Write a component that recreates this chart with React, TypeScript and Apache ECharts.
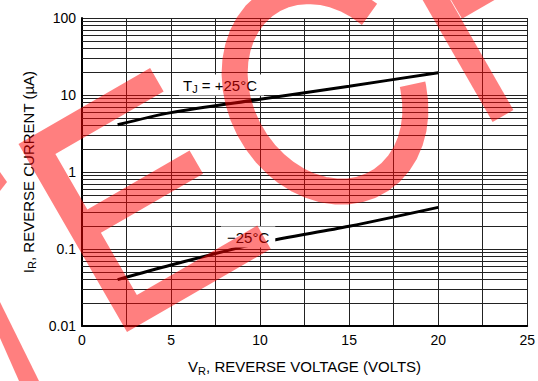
import React, { useEffect, useRef } from "react";
import * as echarts from "echarts";

// ---- data ----
const voltage = [2, 5, 10, 15, 20];
const currentPlus25 = [4.1, 5.9, 8.8, 13, 19.5];
const currentMinus25 = [0.04, 0.062, 0.12, 0.197, 0.347];
const xTickLabels = [0, 5, 10, 15, 20, 25];
const yDecades = [0.01, 0.1, 1, 10, 100];
const minorMultipliers = [2, 3, 4, 5, 6, 7, 8, 9];

const FONT = "'Liberation Sans', Arial, Helvetica, sans-serif";
const WM = "rgba(255,0,0,0.5)";

// watermark letters, defined in a frame tilted ~30 degrees (u right, v up)
const UX = 0.866, UY = -0.5, VX = -0.5, VY = -0.866;
const eLocal: [number, number][] = [
  [0, 0], [166, 0], [166, 27], [27, 27], [27, 99], [145, 99], [145, 126],
  [27, 126], [27, 190], [152, 190], [152, 217], [0, 217],
];
function frame(ox: number, oy: number, p: [number, number]): [number, number] {
  return [ox + p[0] * UX + p[1] * VX, oy + p[0] * UY + p[1] * VY];
}
function cPoints(): [number, number][] {
  const pts: [number, number][] = [];
  for (let deg = 25; deg <= 339; deg += 8) {
    const t = (deg * Math.PI) / 180;
    pts.push(frame(330, 100, [85 * Math.cos(t), 10 + 105 * Math.sin(t)]));
  }
  const t = (339 * Math.PI) / 180;
  pts.push(frame(330, 100, [85 * Math.cos(t), 10 + 105 * Math.sin(t)]));
  return pts;
}

export default function App() {
  const ref = useRef<HTMLDivElement>(null);
  useEffect(() => {
    document.body.style.margin = "0";
    if (!ref.current) return;
    const chart = echarts.init(ref.current, null, { renderer: "svg" });
    const minorLines: { yAxis: number }[] = [];
    yDecades.slice(0, -1).forEach((d) =>
      minorMultipliers.forEach((m) => minorLines.push({ yAxis: +(d * m).toPrecision(3) }))
    );
    const richSub = {
      m: { fontSize: 15, fontFamily: FONT, color: "#000" },
      s: { fontSize: 11, fontFamily: FONT, color: "#000", padding: [8, 0, 0, 0] },
    };
    chart.setOption({
      animation: false,
      grid: { left: 82, right: 10, top: 18, bottom: 50 },
      xAxis: {
        type: "value",
        min: 0,
        max: 25,
        interval: 2.5,
        axisLine: { lineStyle: { color: "#000", width: 2 } },
        axisTick: { show: false },
        axisLabel: {
          color: "#000",
          fontSize: 14,
          fontFamily: FONT,
          margin: 7,
          formatter: (v: number) => (xTickLabels.includes(v) ? String(v) : ""),
        },
        splitLine: { show: true, lineStyle: { color: "#222", width: 1 } },
        name: "{m|V}{s|R}{m|, REVERSE VOLTAGE (VOLTS)}",
        nameLocation: "middle",
        nameGap: 31,
        nameTextStyle: { rich: richSub },
      },
      yAxis: {
        type: "log",
        logBase: 10,
        min: yDecades[0],
        max: yDecades[yDecades.length - 1],
        axisLine: { lineStyle: { color: "#000", width: 2 } },
        axisTick: { show: false },
        axisLabel: {
          color: "#000",
          fontSize: 14,
          fontFamily: FONT,
          margin: 6,
          formatter: (v: number) => String(+v.toPrecision(3)),
        },
        splitLine: { show: true, lineStyle: { color: "#222", width: 1 } },
        name: "{m|I}{s|R}{m|, REVERSE CURRENT (µA)}",
        nameLocation: "middle",
        nameRotate: 90,
        nameGap: 40,
        nameTextStyle: { rich: richSub },
      },
      series: [
        {
          type: "line",
          data: voltage.map((v, i) => [v, currentPlus25[i]]),
          smooth: 0.3,
          showSymbol: false,
          lineStyle: { color: "#000", width: 3 },
          z: 5,
          markLine: {
            silent: true,
            symbol: ["none", "none"],
            label: { show: false },
            lineStyle: { color: "#222", width: 1, type: "solid" },
            data: minorLines,
            z: 1,
          },
        },
        {
          type: "line",
          data: voltage.map((v, i) => [v, currentMinus25[i]]),
          smooth: 0.3,
          showSymbol: false,
          lineStyle: { color: "#000", width: 3 },
          z: 5,
        },
      ],
      graphic: [
        {
          type: "text",
          x: 179,
          y: 85,
          z: 50,
          style: {
            text: "{m|T}{s|J}{m| = +25°C}",
            rich: richSub,
            backgroundColor: "#fff",
            padding: [1, 7, 1, 4],
            verticalAlign: "middle",
          },
        },
        {
          type: "text",
          x: 221,
          y: 237,
          z: 50,
          style: {
            text: "−25°C",
            fontSize: 15,
            fontFamily: FONT,
            fill: "#000",
            backgroundColor: "#fff",
            padding: [3, 6, 3, 6],
            verticalAlign: "middle",
          },
        },
        // watermark
        {
          type: "polygon",
          z: 100,
          silent: true,
          shape: { points: eLocal.map((p) => frame(127, 332, p)) },
          style: { fill: WM },
        },
        {
          type: "polyline",
          z: 100,
          silent: true,
          shape: { points: cPoints() },
          style: { stroke: WM, lineWidth: 26, fill: null, lineCap: "butt", lineJoin: "round" },
        },
        {
          type: "line",
          z: 100,
          silent: true,
          shape: { x1: 503, y1: 116, x2: 425, y2: -20 },
          style: { stroke: WM, lineWidth: 24 },
        },
        {
          type: "line",
          z: 100,
          silent: true,
          shape: { x1: 456, y1: 8.5, x2: 548, y2: -45 },
          style: { stroke: WM, lineWidth: 24 },
        },
        {
          type: "polygon",
          z: 100,
          silent: true,
          shape: { points: [[0, 302], [39, 381], [19, 381], [0, 338]] },
          style: { fill: WM },
        },
        {
          type: "polygon",
          z: 100,
          silent: true,
          shape: { points: [[0, 172], [7, 182], [0, 191]] },
          style: { fill: WM },
        },
      ],
    });
    return () => chart.dispose();
  }, []);
  return <div ref={ref} style={{ width: 538, height: 381 }} />;
}
